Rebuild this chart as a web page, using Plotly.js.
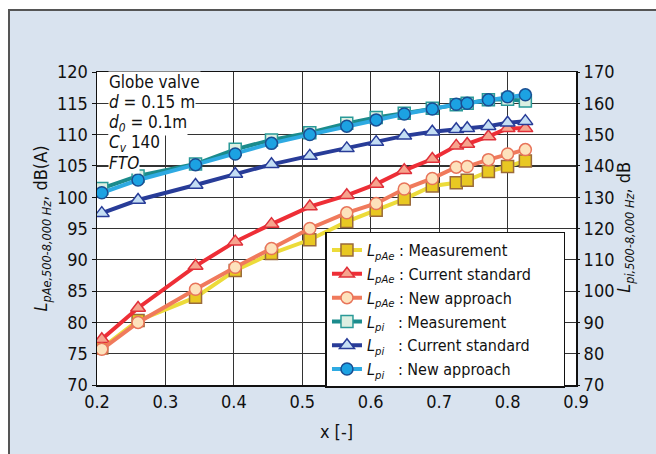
<!DOCTYPE html>
<html>
<head>
<meta charset="utf-8">
<script src="https://cdn.plot.ly/plotly-3.0.1.min.js"></script>
<style>
  html, body { margin: 0; padding: 0; background: #ffffff; }
  #frame { position: absolute; left: 8px; top: 9px; width: 660px; height: 460px;
           background: #d9e3ef; border-left: 2px solid #555; border-top: 2px solid #555; }
  #chart { position: absolute; left: 0; top: 0; width: 656px; height: 454px; }
</style>
</head>
<body>
<div id="frame"></div>
<div id="chart"></div>
<script>
// x positions
const xVals = [0.207, 0.26, 0.344, 0.402, 0.455, 0.511, 0.565, 0.608, 0.649, 0.69, 0.725, 0.741, 0.772, 0.80, 0.826];

// LpAe, dB(A) (left axis)
const lpaeMeasurement = [75.9, 80.3, 84.0, 88.3, 91.0, 93.2, 96.1, 97.9, 99.7, 101.8, 102.3, 102.7, 104.1, 104.9, 105.8];
const lpaeCurrentStd  = [77.3, 82.3, 89.0, 92.9, 95.7, 98.5, 100.3, 102.1, 104.3, 106.1, 108.2, 108.5, 109.7, 111.0, 111.0];
const lpaeNewApproach = [75.7, 80.0, 85.3, 88.8, 91.8, 95.0, 97.5, 99.0, 101.3, 103.0, 104.8, 104.9, 106.0, 106.9, 107.6];

// Lpi, dB (right axis)
const lpiMeasurement = [132.8, 136.8, 140.6, 145.3, 148.3, 150.6, 153.6, 155.5, 156.8, 158.4, 159.5, 160.0, 161.1, 161.3, 160.7];
const lpiCurrentStd  = [124.9, 129.1, 133.9, 137.4, 140.5, 143.2, 145.6, 147.6, 149.6, 150.9, 151.7, 152.0, 152.7, 153.8, 154.3];
const lpiNewApproach = [131.4, 135.5, 140.4, 143.8, 147.2, 150.0, 152.7, 154.7, 156.6, 158.2, 159.7, 160.0, 161.1, 162.1, 162.7];

const xTicks = [0.2, 0.3, 0.4, 0.5, 0.6, 0.7, 0.8, 0.9];
const yLeftTicks = [70, 75, 80, 85, 90, 95, 100, 105, 110, 115, 120];
const yRightTicks = [70, 80, 90, 100, 110, 120, 130, 140, 150, 160, 170];

const infoLines = ['Globe valve', '<i>d</i> = 0.15 m', '<i>d<sub>0</sub></i> = 0.1m', '<i>C<sub>v</sub></i> 140', '<i>FTO</i>'];
const rightTitle = '<i>L</i><sub><i>pi,500-8,000 Hz</i></sub>, dB';
const leftTitle = '<i>L</i><sub><i>pAe,500-8,000 Hz</i></sub>, dB(A)';

const FONT = '"DejaVu Sans Condensed", "Liberation Sans Narrow", "Liberation Sans", sans-serif';
const LAE = '<i>L</i><sub><i>pAe</i></sub> : ';
const LPI = '<i>L</i><sub><i>pi</i></sub>&nbsp;&nbsp;&nbsp;: ';
const PAD = '&nbsp;&nbsp;&nbsp;&nbsp;&nbsp;&nbsp;';

function tr(y, name, lineColor, lineWidth, symbol, fill, edge, size, axis) {
  return {
    x: xVals, y: y, name: name, type: 'scatter', mode: 'lines+markers',
    yaxis: axis,
    line: { color: lineColor, width: lineWidth },
    marker: { symbol: symbol, size: size, color: fill, line: { color: edge, width: 1.5 } }
  };
}

const data = [
  tr(lpaeMeasurement, LAE + 'Measurement', '#ecdb3a', 4, 'square', '#e9c822', '#9a6a3a', 12, 'y'),
  tr(lpaeCurrentStd, LAE + 'Current standard' + PAD, '#ee2e36', 4, 'triangle-up', '#f6a48e', '#e0303a', 13, 'y'),
  tr(lpaeNewApproach, LAE + 'New approach', '#f07a5c', 4, 'circle', '#fde2bc', '#e8745a', 12, 'y'),
  tr(lpiMeasurement, LPI + 'Measurement', '#1b8b8c', 4, 'square', '#dcefe2', '#2a9a98', 12, 'y2'),
  tr(lpiCurrentStd, LPI + 'Current standard' + PAD, '#283c98', 4, 'triangle-up', '#c4def4', '#283c98', 13, 'y2'),
  tr(lpiNewApproach, LPI + 'New approach', '#2eaae2', 4, 'circle', '#1ca2e2', '#1a4e92', 12, 'y2')
];

const annotations = infoLines.map((t, i) => ({
  text: t, xref: 'paper', yref: 'paper', x: 0.022, y: [0.968, 0.903, 0.837, 0.771, 0.708][i],
  xanchor: 'left', yanchor: 'middle', showarrow: false, bgcolor: '#ffffff', borderpad: 0,
  font: { family: FONT, size: 17, color: '#111' }
}));
annotations.push({
  text: rightTitle, xref: 'paper', yref: 'paper', x: 1.102, y: 0.505, textangle: -90,
  xanchor: 'center', yanchor: 'middle', showarrow: false,
  font: { family: FONT, size: 18, color: '#111' }
});

const layout = {
  width: 656, height: 454,
  margin: { l: 97, r: 80, t: 72, b: 69 },
  paper_bgcolor: 'rgba(0,0,0,0)', plot_bgcolor: '#ffffff',
  font: { family: FONT, size: 18, color: '#111' },
  showlegend: true,
  legend: {
    x: 0.477, y: 0.49, xanchor: 'left', yanchor: 'top',
    bgcolor: '#ffffff', bordercolor: '#111', borderwidth: 1.5,
    font: { family: FONT, size: 16, color: '#111' },
    tracegroupgap: 0, itemwidth: 30
  },
  xaxis: {
    range: [0.2, 0.9], tickvals: xTicks, ticktext: xTicks.map(v => v.toFixed(1)),
    showgrid: true, gridcolor: '#333', gridwidth: 1.2,
    showline: true, linecolor: '#111', linewidth: 1.5, mirror: true,
    ticks: '', zeroline: false,
    title: { text: 'x [-]', font: { family: FONT, size: 18 }, standoff: 14 }
  },
  yaxis: {
    range: [70, 120], tickvals: yLeftTicks, ticktext: yLeftTicks.map(String),
    showgrid: true, gridcolor: '#333', gridwidth: 1.2,
    showline: true, linecolor: '#111', linewidth: 1.5, mirror: true,
    ticks: 'outside', ticklen: 4, tickcolor: '#111', zeroline: false,
    title: { text: leftTitle, font: { family: FONT, size: 18 }, standoff: 4 }
  },
  yaxis2: {
    range: [70, 170], tickvals: yRightTicks, ticktext: yRightTicks.map(String),
    overlaying: 'y', side: 'right', showgrid: false, zeroline: false,
    showline: false, ticks: 'outside', ticklen: 3, tickcolor: '#111'
  },
  annotations: annotations
};

Plotly.newPlot('chart', data, layout, { displayModeBar: false, staticPlot: true });
</script>
</body>
</html>
